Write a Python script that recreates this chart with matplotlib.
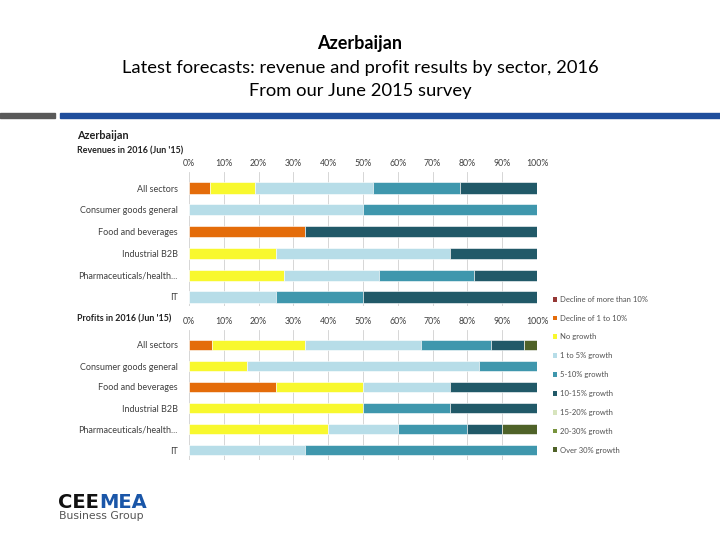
import matplotlib
matplotlib.use("Agg")
import matplotlib.pyplot as plt
from matplotlib.patches import Rectangle, Patch
import numpy as np

plt.rcParams["font.family"] = ["Lato", "DejaVu Sans"]

# categories (top to bottom)
sectors = ["All sectors", "Consumer goods general", "Food and beverages",
           "Industrial B2B", "Pharmaceuticals/health...", "IT"]

series_names = ["Decline of more than 10%", "Decline of 1 to 10%", "No growth",
                "1 to 5% growth", "5-10% growth", "10-15% growth",
                "15-20% growth", "20-30% growth", "Over 30% growth"]
series_colors = ["#953735", "#e46c0a", "#f8f82e", "#b7dde8", "#3f97ad",
                 "#215968", "#d7e4bd", "#77933c", "#4f6228"]

# revenue shares (%), one list per series
rev_decl_big = [0, 0, 0, 0, 0, 0]
rev_decl_small = [6, 0, 33.3, 0, 0, 0]
rev_no_growth = [13, 0, 0, 25, 27.3, 0]
rev_1_5 = [34, 50, 0, 50, 27.3, 25]
rev_5_10 = [25, 50, 0, 0, 27.3, 25]
rev_10_15 = [22, 0, 66.7, 25, 18.1, 50]
rev_15_20 = [0, 0, 0, 0, 0, 0]
rev_20_30 = [0, 0, 0, 0, 0, 0]
rev_over_30 = [0, 0, 0, 0, 0, 0]

# profit shares (%)
prof_decl_big = [0, 0, 0, 0, 0, 0]
prof_decl_small = [6.5, 0, 25, 0, 0, 0]
prof_no_growth = [26.8, 16.7, 25, 50, 40, 0]
prof_1_5 = [33.3, 66.6, 25, 0, 20, 33.3]
prof_5_10 = [20.2, 16.7, 0, 25, 20, 66.7]
prof_10_15 = [9.5, 0, 25, 25, 10, 0]
prof_15_20 = [0, 0, 0, 0, 0, 0]
prof_20_30 = [0, 0, 0, 0, 0, 0]
prof_over_30 = [3.7, 0, 0, 0, 10, 0]

revenues = [rev_decl_big, rev_decl_small, rev_no_growth, rev_1_5, rev_5_10,
            rev_10_15, rev_15_20, rev_20_30, rev_over_30]
profits = [prof_decl_big, prof_decl_small, prof_no_growth, prof_1_5, prof_5_10,
           prof_10_15, prof_15_20, prof_20_30, prof_over_30]

W, H = 720, 540
fig = plt.figure(figsize=(7.2, 5.4), dpi=100)


def fx(px):
    return px / W


def fy(py):
    return 1 - py / H


# title
fig.text(0.5, fy(43), "Azerbaijan", ha="center", va="center",
         fontsize=13, fontweight="bold")
fig.text(0.5, fy(68), "Latest forecasts: revenue and profit results by sector, 2016",
         ha="center", va="center", fontsize=13.2)
fig.text(0.5, fy(91), "From our June 2015 survey", ha="center", va="center",
         fontsize=13.2)

# header band
fig.patches.append(Rectangle((0, fy(118)), fx(55), 5 / H, transform=fig.transFigure,
                             color="#595959", zorder=1))
fig.patches.append(Rectangle((fx(60), fy(118)), 1 - fx(60), 5 / H,
                             transform=fig.transFigure, color="#1f4e9c", zorder=1))

# chart headings
fig.text(fx(77), fy(136), "Azerbaijan", fontsize=7.8, fontweight="bold",
         va="center", color="#222222")
fig.text(fx(77), fy(151), "Revenues in 2016 (Jun '15)", fontsize=6.4,
         fontweight="bold", va="center", color="#222222")
fig.text(fx(77), fy(319), "Profits in 2016 (Jun '15)", fontsize=6.4,
         fontweight="bold", va="center", color="#222222")


def draw_panel(top_px, bot_px, first_px, step_px, data):
    ax = fig.add_axes([fx(189), fy(bot_px), fx(537) - fx(189), (bot_px - top_px) / H])
    y = np.arange(len(sectors))
    left = np.zeros(len(sectors))
    for vals, col in zip(data, series_colors):
        vals = np.array(vals, dtype=float)
        ax.barh(y, vals, left=left, height=0.52, color=col, edgecolor="white",
                linewidth=0.4, zorder=2)
        left += vals
    ax.set_xlim(0, 100)
    ytop = -(first_px - top_px) / step_px
    ybot = (len(sectors) - 1) + (bot_px - (first_px + step_px * (len(sectors) - 1))) / step_px
    ax.set_ylim(ybot, ytop)
    ax.set_yticks(y)
    ax.set_yticklabels(sectors, fontsize=6.5, color="#404040")
    ax.xaxis.tick_top()
    ax.set_xticks(np.arange(0, 101, 10))
    ax.set_xticklabels([f"{v}%" for v in range(0, 101, 10)], fontsize=6.3,
                       color="#404040")
    ax.tick_params(length=0, pad=3)
    ax.tick_params(axis="y", pad=8)
    ax.grid(axis="x", color="#d0d0d0", linewidth=0.6, zorder=0)
    ax.set_axisbelow(True)
    for s in ax.spines.values():
        s.set_visible(False)
    return ax


draw_panel(172, 306, 188, 21.8, revenues)
draw_panel(330, 460, 345, 21.0, profits)

# legend
handles = [Patch(facecolor=c, label=n) for c, n in zip(series_colors, series_names)]
fig.legend(handles=handles, loc="upper left", bbox_to_anchor=(fx(549), fy(292)),
           frameon=False, fontsize=5.5, handlelength=0.6, handleheight=0.6,
           handletextpad=0.4, labelspacing=1.55, borderpad=0,
           labelcolor="#505050")

# logo
t1 = fig.text(fx(58), fy(508), "CEE", fontsize=14, fontweight="bold",
              color="#111111", family="DejaVu Sans", va="baseline")
ax_dummy = fig.add_axes([0, 0, 0.01, 0.01])
ax_dummy.set_axis_off()
ax_dummy.annotate("MEA", xy=(1, 0), xycoords=t1, va="bottom", ha="left",
                  fontsize=14, fontweight="bold", color="#1a56a8",
                  family="DejaVu Sans", annotation_clip=False)
fig.text(fx(59), fy(511), "Business Group", fontsize=7.8, color="#555555",
         family="DejaVu Sans", va="top")

fig.savefig("out.png", dpi=100)
